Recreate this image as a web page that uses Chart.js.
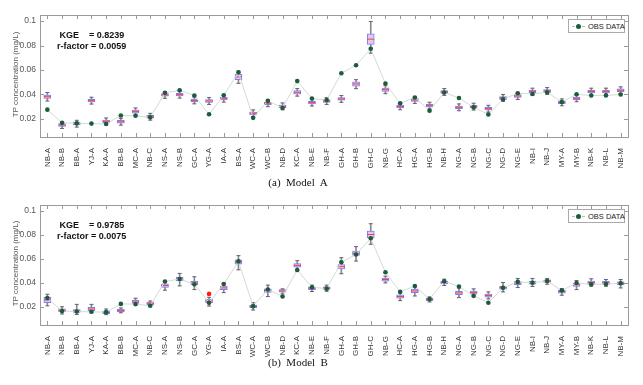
<!DOCTYPE html>
<html>
<head>
<meta charset="UTF-8">
<title>TP concentration boxplots</title>
<style>
  body { margin: 0; background: #fff; width: 643px; height: 385px; position: relative; overflow: hidden; font-family: "Liberation Sans", Arial, sans-serif; }
  canvas { position: absolute; left: 0; }
  .ytitle { position: absolute; left: 15px; width: 160px; margin-left: -80px; text-align: center; font-size: 8px; color: #555; transform: rotate(-90deg); white-space: nowrap; }
  .stats { position: absolute; left: 57px; font-size: 9px; font-weight: bold; color: #111; line-height: 11px; white-space: pre; }
  .legend { position: absolute; left: 568px; width: 55px; height: 12px; border: 1px solid #aaa; background: #fff; font-size: 7.5px; color: #222; white-space: nowrap; }
  .legend .ln { position: absolute; left: 3px; top: 6px; width: 13px; border-top: 1px dashed #bbb; }
  .legend .dot { position: absolute; left: 7px; top: 4px; width: 5px; height: 5px; border-radius: 50%; background: #1d5c3a; }
  .legend .txt { position: absolute; left: 19px; top: 1.5px; }
  .caption { position: absolute; left: 298px; width: 140px; margin-left: -70px; text-align: center; font-family: "Liberation Serif", "Times New Roman", serif; font-size: 11px; color: #111; white-space: pre; }
</style>
</head>
<body>
<canvas id="chartA" width="643" height="180" style="top:0"></canvas>
<canvas id="chartB" width="643" height="180" style="top:190px"></canvas>

<div class="ytitle" style="top:70px">TP concentration (mg/L)</div>
<div class="ytitle" style="top:259px">TP concentration (mg/L)</div>

<div class="stats" style="top:30px"> KGE    = 0.8239
r-factor = 0.0059</div>
<div class="stats" style="top:220px"> KGE    = 0.9785
r-factor = 0.0075</div>

<div class="legend" style="top:19px"><div class="ln"></div><div class="dot"></div><div class="txt">OBS DATA</div></div>
<div class="legend" style="top:209px"><div class="ln"></div><div class="dot"></div><div class="txt">OBS DATA</div></div>

<div class="caption" style="top:176px">(a)  Model  A</div>
<div class="caption" style="top:356px">(b)  Model  B</div>

<script src="https://cdn.jsdelivr.net/npm/chart.js"></script>
<script>
  const categories = ["NB-A","NB-B","BB-A","YJ-A","KA-A","BB-B","MC-A","NB-C","NS-A","NS-B",
    "GC-A","YG-A","IA-A","BS-A","WC-A","WC-B","NB-D","KC-A","NB-E","NB-F",
    "GH-A","GH-B","GH-C","NB-G","HC-A","HG-A","HG-B","NB-H","NG-A","NG-B",
    "NG-C","NG-D","NG-E","NB-I","NB-J","MY-A","MY-B","NB-K","NB-L","NB-M"];

  // observed TP (same in both panels)
  const obsData = [0.0274,0.0166,0.0162,0.0160,0.0157,0.0226,0.0224,0.0211,0.0412,0.0433,
    0.0390,0.0236,0.0392,0.0580,0.0207,0.0346,0.0288,0.0508,0.0365,0.0353,
    0.0573,0.0638,0.0773,0.0489,0.0326,0.0374,0.0266,0.0415,0.0370,0.0293,
    0.0235,0.0360,0.0409,0.0402,0.0417,0.0337,0.0400,0.0390,0.0391,0.0398];

  // Model A
  const medA = [0.0380,0.0148,0.0159,0.0348,0.0178,0.0175,0.0258,0.0216,0.0395,0.0397,
    0.0350,0.0345,0.0364,0.0542,0.0244,0.0326,0.0301,0.0416,0.0332,0.0345,
    0.0362,0.0485,0.0852,0.0438,0.0301,0.0353,0.0307,0.0419,0.0293,0.0299,
    0.0282,0.0370,0.0386,0.0422,0.0427,0.0334,0.0367,0.0422,0.0422,0.0433];
  const boxHalfA = [0.0014,0.0011,0.0011,0.0011,0.0011,0.0011,0.0012,0.0011,0.0011,0.0011,
    0.0011,0.0011,0.0011,0.0022,0.0011,0.0011,0.0011,0.0014,0.0011,0.0011,
    0.0011,0.0018,0.0044,0.0014,0.0011,0.0011,0.0011,0.0011,0.0011,0.0011,
    0.0011,0.0011,0.0011,0.0011,0.0011,0.0011,0.0011,0.0011,0.0011,0.0011];
  const whiskLoA = [0.0345,0.0120,0.0131,0.0320,0.0150,0.0147,0.0230,0.0188,0.0367,0.0369,
    0.0322,0.0317,0.0336,0.0490,0.0216,0.0298,0.0273,0.0385,0.0304,0.0317,
    0.0334,0.0446,0.0737,0.0405,0.0273,0.0325,0.0279,0.0391,0.0265,0.0271,
    0.0254,0.0342,0.0358,0.0394,0.0399,0.0306,0.0339,0.0394,0.0394,0.0405];
  const whiskHiA = [0.0415,0.0176,0.0187,0.0376,0.0206,0.0203,0.0288,0.0244,0.0423,0.0425,
    0.0378,0.0373,0.0392,0.0590,0.0272,0.0354,0.0329,0.0447,0.0360,0.0373,
    0.0390,0.0520,0.0997,0.0471,0.0329,0.0381,0.0335,0.0447,0.0321,0.0327,
    0.0310,0.0398,0.0414,0.0450,0.0455,0.0362,0.0395,0.0450,0.0450,0.0461];

  // Model B
  const medB = [0.0259,0.0172,0.0166,0.0183,0.0155,0.0172,0.0242,0.0231,0.0379,0.0432,
    0.0399,0.0250,0.0359,0.0575,0.0206,0.0337,0.0334,0.0547,0.0357,0.0357,
    0.0536,0.0648,0.0804,0.0429,0.0287,0.0334,0.0264,0.0404,0.0317,0.0320,
    0.0295,0.0362,0.0399,0.0404,0.0415,0.0329,0.0385,0.0404,0.0401,0.0396];
  const boxHalfB = [0.0022,0.0012,0.0012,0.0014,0.0011,0.0011,0.0013,0.0011,0.0015,0.0015,
    0.0015,0.0015,0.0015,0.0018,0.0011,0.0015,0.0011,0.0015,0.0012,0.0011,
    0.0018,0.0018,0.0028,0.0013,0.0014,0.0015,0.0011,0.0012,0.0014,0.0013,
    0.0013,0.0013,0.0013,0.0013,0.0011,0.0013,0.0014,0.0013,0.0012,0.0013];
  const whiskLoB = [0.0210,0.0142,0.0138,0.0152,0.0136,0.0152,0.0214,0.0211,0.0340,0.0376,
    0.0345,0.0208,0.0320,0.0510,0.0175,0.0287,0.0309,0.0502,0.0329,0.0331,
    0.0477,0.0583,0.0723,0.0401,0.0253,0.0292,0.0242,0.0379,0.0278,0.0287,
    0.0267,0.0326,0.0362,0.0371,0.0390,0.0298,0.0345,0.0373,0.0373,0.0359];
  const whiskHiB = [0.0306,0.0202,0.0222,0.0222,0.0183,0.0192,0.0273,0.0250,0.0418,0.0480,
    0.0452,0.0281,0.0396,0.0628,0.0236,0.0382,0.0351,0.0586,0.0382,0.0382,
    0.0611,0.0703,0.0894,0.0457,0.0326,0.0376,0.0284,0.0432,0.0359,0.0351,
    0.0326,0.0404,0.0438,0.0438,0.0438,0.0354,0.0421,0.0435,0.0429,0.0429];
  const outlierB = categories.map(c => c === "YG-A" ? 0.0309 : null);

  const yTicks = [0.02, 0.04, 0.06, 0.08, 0.1];

  // border round the plot with inward ticks on all four sides
  const framePlugin = {
    id: "frame",
    afterDraw(chart) {
      const { ctx, chartArea: a, scales } = chart;
      ctx.save();
      ctx.strokeStyle = "#9a9a9a";
      ctx.lineWidth = 1;
      ctx.strokeRect(a.left + 0.5, a.top + 0.5, a.right - a.left, a.bottom - a.top);
      ctx.beginPath();
      scales.x.ticks.forEach((t, i) => {
        const x = Math.round(scales.x.getPixelForTick(i)) + 0.5;
        ctx.moveTo(x, a.bottom); ctx.lineTo(x, a.bottom - 4);
        ctx.moveTo(x, a.top); ctx.lineTo(x, a.top + 4);
      });
      yTicks.forEach(v => {
        const y = Math.round(scales.y.getPixelForValue(v)) + 0.5;
        ctx.moveTo(a.left, y); ctx.lineTo(a.left + 4, y);
        ctx.moveTo(a.right, y); ctx.lineTo(a.right - 4, y);
      });
      ctx.stroke();
      ctx.restore();
    }
  };

  function makeChart(id, med, half, lo, hi, outliers, topPad, xHeight) {
    const datasets = [
      { label: "whisker", data: lo.map((v, i) => [v, hi[i]]), backgroundColor: "#8a8a8a",
        borderWidth: 0, barThickness: 1, grouped: false, order: 6 },
      { label: "box", data: med.map((v, i) => [v - half[i], v + half[i]]), backgroundColor: "#e2c9ee",
        borderColor: "#7b7bff", borderWidth: 1, borderSkipped: false, barThickness: 7, grouped: false, order: 5 },
      { type: "line", label: "capLo", data: lo, showLine: false, pointStyle: "line", pointRadius: 2,
        borderColor: "#666", borderWidth: 1, order: 4 },
      { type: "line", label: "capHi", data: hi, showLine: false, pointStyle: "line", pointRadius: 2,
        borderColor: "#666", borderWidth: 1, order: 4 },
      { type: "line", label: "median", data: med, showLine: false, pointStyle: "line", pointRadius: 3.5,
        borderColor: "#ff3b3b", borderWidth: 1, order: 3 },
      { type: "line", label: "OBS DATA", data: obsData, borderColor: "#cfdcd4", borderWidth: 1,
        pointRadius: 2.3, pointBackgroundColor: "#1d5c3a", pointBorderColor: "#1d5c3a", pointBorderWidth: 0, order: 1 }
    ];
    if (outliers) {
      datasets.push({ type: "line", label: "outlier", data: outliers, showLine: false, pointRadius: 2.3,
        pointBackgroundColor: "#ff1a1a", pointBorderColor: "#ff1a1a", pointBorderWidth: 0, order: 2 });
    }
    return new Chart(document.getElementById(id), {
      type: "bar",
      data: { labels: categories, datasets: datasets },
      plugins: [framePlugin],
      options: {
        responsive: false,
        animation: false,
        devicePixelRatio: 1,
        layout: { padding: { top: topPad, right: 15, left: 0, bottom: 0 } },
        plugins: { legend: { display: false }, tooltip: { enabled: false } },
        scales: {
          x: {
            offset: true,
            grid: { display: false },
            border: { display: false },
            ticks: { autoSkip: false, minRotation: 90, maxRotation: 90, padding: 3,
              color: "#333", font: { family: "Liberation Sans", size: 8 } },
            afterFit(s) { s.height = xHeight; }
          },
          y: {
            min: 0.005,
            max: 0.105,
            grid: { display: false, drawTicks: false },
            border: { display: false },
            afterBuildTicks(s) { s.ticks = yTicks.map(v => ({ value: v })); },
            ticks: { padding: 4, color: "#555", font: { family: "Liberation Sans", size: 8.5 },
              callback: v => String(+v.toFixed(2)) },
            afterFit(s) { s.width = 40; }
          }
        }
      }
    });
  }

  makeChart("chartA", medA, boxHalfA, whiskLoA, whiskHiA, null, 15, 43);
  makeChart("chartB", medB, boxHalfB, whiskLoB, whiskHiB, outlierB, 15, 45);
</script>
</body>
</html>
